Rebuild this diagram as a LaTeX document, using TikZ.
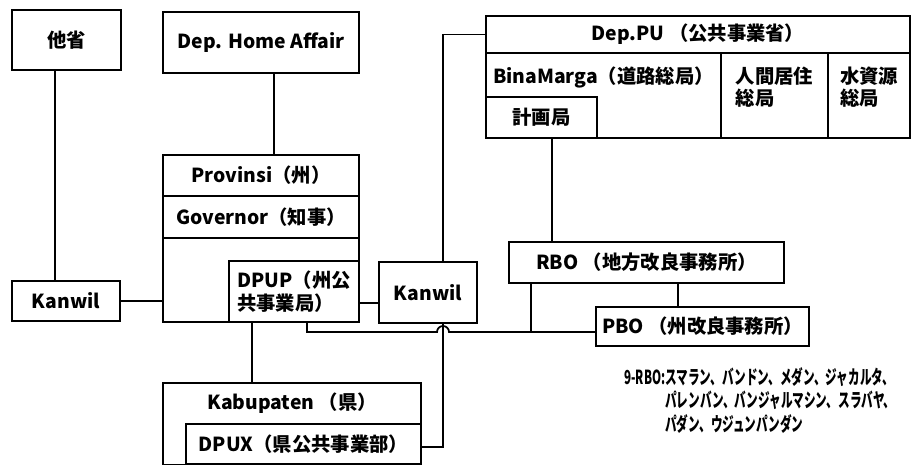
\documentclass[tikz,border=0pt]{standalone}
\usepackage{fontspec}
\setmainfont{Noto Sans CJK JP}
\newfontfamily\narrowkana{Noto Sans CJK JP}[FakeStretch=0.6]
\usetikzlibrary{positioning, calc}

\begin{document}
\begin{tikzpicture}[
  x=0.02cm, y=-0.02cm,
  box/.style={rectangle, draw=black, line width=1pt, inner sep=2pt,
    font=\fontsize{11}{13}\selectfont\bfseries},
  toplbl/.style={anchor=north, inner sep=8pt, align=left,
    font=\fontsize{11}{13}\selectfont\bfseries},
  ln/.style={line width=1pt},
  note/.style={inner sep=0pt, font=\narrowkana\fontsize{11}{13}\selectfont\bfseries},
]
  \useasboundingbox (0,0) rectangle (912,465);

  % left column
  \node[box, minimum width=2.18cm, minimum height=1.2cm] (tasho) at (66.5,40) {他省};
  \node[box, minimum width=2.16cm, minimum height=0.8cm] (kanL) at (66,301) {Kanwil};

  % province
  \node[box, minimum width=3.92cm, minimum height=1.22cm] (home) at (261,42.5) {Dep. Home Affair};
  \node[box, minimum width=3.92cm, minimum height=0.82cm] (prov) at (261,175.5) {Provinsi（州）};
  \node[box, minimum width=3.92cm, minimum height=0.84cm] (gov)  at (261,217) {Governor（知事）};
  \node[box, minimum width=3.92cm, minimum height=1.68cm] (provlow) at (261,280) {};
  \node[box, minimum width=2.6cm, minimum height=1.22cm, align=left] (dpup) at (294,291.5) {DPUP（州公\\共事業局）};
  \node[box, minimum width=1.96cm, minimum height=1.22cm] (kanM) at (428,292.5) {Kanwil};

  % ministry
  \node[box, minimum width=8.48cm, minimum height=0.74cm] (dep) at (698,34.5) {Dep.PU （公共事業省）};
  \node[box, minimum width=4.7cm, minimum height=1.7cm,
    label={[toplbl]north:BinaMarga（道路総局）}] (bina) at (603.5,95.5) {};
  \node[box, minimum width=2.14cm, minimum height=1.7cm,
    label={[toplbl]north:人間居住\\総局}] (ningen) at (774.5,95.5) {};
  \node[box, minimum width=1.64cm, minimum height=1.7cm,
    label={[toplbl]north:水資源\\総局}] (mizu) at (869,95.5) {};
  \node[box, minimum width=2.22cm, minimum height=0.82cm] (keik) at (541.5,117.5) {計画局};

  % regional offices
  \node[box, minimum width=5.5cm, minimum height=0.82cm] (rbo) at (646.5,262.5) {RBO （地方改良事務所）};
  \node[box, minimum width=4.26cm, minimum height=0.78cm] (pbo) at (702.5,326.5) {PBO （州改良事務所）};

  % kabupaten
  \node[box, minimum width=5.16cm, minimum height=1.64cm,
    label={[toplbl, inner sep=6pt]north:Kabupaten （県）}] (kabu) at (292,424) {};
  \node[box, minimum width=4.7cm, minimum height=0.8cm] (dpux) at (303.5,444) {DPUX（県公共事業部）};

  \node[note, anchor=north west] (rbolist) at (624,367) {%
    \begin{tabular}{@{}l@{}l@{}}
      9-RBO:&スマラン、バンドン、メダン、ジャカルタ、\\
      &パレンバン、バンジャルマシン、スラバヤ、\\
      &パダン、ウジュンパンダン
    \end{tabular}};

  % connectors
  \draw[ln] ($(tasho.south)+(-11.5,0)$) coordinate (t1) -- (t1 |- kanL.north);
  \draw[ln] (kanL.east) -- (kanL.east -| provlow.west);
  \draw[ln] ($(home.south)+(13,0)$) coordinate (h1) -- (h1 |- prov.north);
  \draw[ln] ($(dpup.east)+(0,11.5)$) coordinate (p1) -- (p1 -| kanM.west);
  \draw[ln] ($(kanM.north)+(15,0)$) |- (dep.west);
  \draw[ln] ($(keik.south)+(10.5,0)$) coordinate (k1) -- (k1 |- rbo.north);
  \draw[ln] ($(rbo.south)+(31.5,0)$) coordinate (r1) -- (r1 |- pbo.north);
  \coordinate (bus) at ($(pbo.west)+(0,5.5)$);
  \draw[ln] ($(rbo.south)+(-115.5,0)$) coordinate (r2) -- (r2 |- bus);
  \path ($(kanM.south)+(15,0)$) coordinate (k2);
  \draw[ln] ($(dpup.south)+(13,0)$) |- ($(k2 |- bus)+(-6,0)$)
    arc[start angle=180, end angle=360, radius=6] -- (bus);
  \draw[ln] (k2) |- ($(dpux.east)+(0,3)$);
  \draw[ln] ($(dpup.south)+(-42,0)$) coordinate (d1) -- (d1 |- kabu.north);
\end{tikzpicture}
\end{document}
